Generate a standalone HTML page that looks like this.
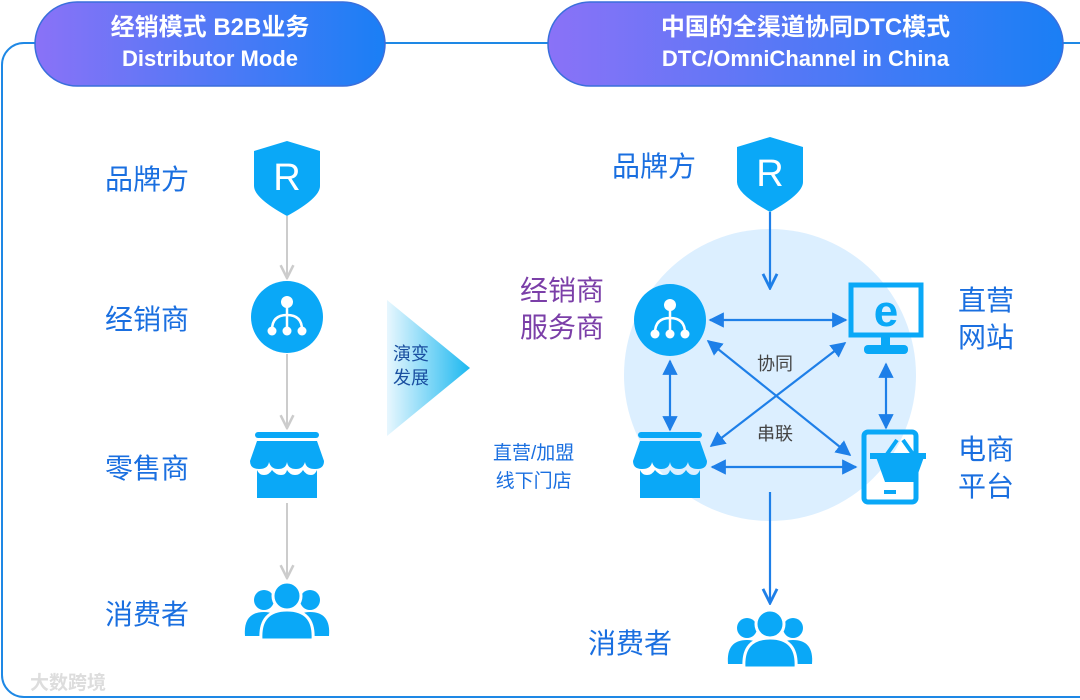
<!DOCTYPE html>
<html><head><meta charset="utf-8"><style>
body{margin:0;width:1080px;height:700px;background:#fff;overflow:hidden;font-family:"Liberation Sans","Noto Sans CJK SC",sans-serif;}
.t{position:absolute;white-space:nowrap;}
</style></head><body>
<svg width="1080" height="700" style="position:absolute;left:0;top:0">
<defs>
<linearGradient id="pg" x1="0" x2="1"><stop offset="0" stop-color="#8a72f7"/><stop offset="1" stop-color="#1a7ff5"/></linearGradient>
<linearGradient id="tg" x1="0" x2="1"><stop offset="0" stop-color="#e8f7fe"/><stop offset="1" stop-color="#1cb8f0"/></linearGradient>
<marker id="ag" viewBox="0 0 10 10" refX="9" refY="5" markerWidth="8" markerHeight="8" orient="auto-start-reverse"><path d="M1 1L9 5L1 9" fill="none" stroke="#ccc" stroke-width="1.6"/></marker>
<marker id="ab" viewBox="0 0 10 10" refX="9" refY="5" markerWidth="7" markerHeight="7" orient="auto-start-reverse"><path d="M0 0L10 5L0 10z" fill="#1e7fe8"/></marker>
<marker id="av" viewBox="0 0 10 10" refX="9" refY="5" markerWidth="8" markerHeight="8" orient="auto-start-reverse"><path d="M1 1L9 5L1 9" fill="none" stroke="#1e7fe8" stroke-width="1.6"/></marker>
<g id="shield"><path d="M0 -35L33 -25V10Q33 22 0 40Q-33 22 -33 10V-25Z" fill="#0aa8f7"/><text x="0" y="14" font-size="38" fill="#fff" text-anchor="middle" font-family="Liberation Sans">R</text></g>
<g id="dist"><circle r="36" fill="#0aa8f7"/><circle cx="0" cy="-15" r="6" fill="#fff"/><line x1="0" y1="-10" x2="0" y2="13" stroke="#fff" stroke-width="2.5"/><path d="M-15 13Q-15 -2 0 -2Q15 -2 15 13" fill="none" stroke="#fff" stroke-width="2.5"/><circle cx="-15" cy="14" r="4.5" fill="#fff"/><circle cx="0" cy="14" r="4.5" fill="#fff"/><circle cx="15" cy="14" r="4.5" fill="#fff"/></g>
<g id="store"><rect x="-32" y="-33" width="64" height="6" rx="3" fill="#0aa8f7"/><path d="M-30 -24H30L37 -4Q37 4 28 4Q19 4 18 -3Q16 4 9 4Q1 4 0 -3Q-1 4 -9 4Q-16 4 -18 -3Q-19 4 -28 4Q-37 4 -37 -4Z" fill="#0aa8f7"/><path d="M-30 5Q-28 10 -23 10Q-18 10 -15 5Q-11 10 -6 10Q-1 10 0 5Q3 10 8 10Q13 10 16 5Q19 10 24 10Q28 10 30 5V33H-30Z" fill="#0aa8f7"/></g>
<g id="people" fill="#0aa8f7"><circle cx="-23" cy="-12" r="10"/><circle cx="23" cy="-12" r="10"/><path d="M-42 24Q-44 0 -23 0Q-12 0 -10 8V24Z"/><path d="M42 24Q44 0 23 0Q12 0 10 8V24Z"/><circle cx="0" cy="-16" r="14" stroke="#fff" stroke-width="3"/><path d="M-26 28Q-28 -2 0 -2Q28 -2 26 28Z" stroke="#fff" stroke-width="3"/></g>
</defs>
<rect x="2" y="43" width="1100" height="654" rx="22" fill="none" stroke="#1e88e5" stroke-width="2"/>
<rect x="35" y="2" width="350" height="84" rx="42" fill="url(#pg)" stroke="#3a6fdc" stroke-width="1.5"/>
<rect x="548" y="2" width="515" height="84" rx="42" fill="url(#pg)" stroke="#3a6fdc" stroke-width="1.5"/>
<circle cx="770" cy="375" r="146" fill="#dcefff"/>
<polygon points="387,300 470,368 387,436" fill="url(#tg)"/>
<use href="#shield" x="287" y="176"/>
<use href="#dist" x="287" y="317"/>
<use href="#store" x="287" y="465"/>
<use href="#people" x="287" y="612"/>
<g stroke="#ccc" stroke-width="2"><line x1="287" y1="216" x2="287" y2="278" marker-end="url(#ag)"/><line x1="287" y1="354" x2="287" y2="428" marker-end="url(#ag)"/><line x1="287" y1="503" x2="287" y2="578" marker-end="url(#ag)"/></g>
<use href="#shield" x="770" y="172"/>
<use href="#dist" x="670" y="320"/>
<use href="#store" x="670" y="465"/>
<use href="#people" x="770" y="640"/>
<g fill="#0aa8f7"><rect x="851" y="285" width="70" height="50" fill="none" stroke="#0aa8f7" stroke-width="5"/><text x="886" y="326" font-size="44" font-weight="bold" text-anchor="middle" font-family="Liberation Sans">e</text><rect x="881" y="335" width="9" height="12"/><rect x="864" y="345" width="44" height="9" rx="4"/>
<rect x="864" y="432" width="52" height="70" rx="4" fill="none" stroke="#0aa8f7" stroke-width="5"/><rect x="884" y="490" width="12" height="4"/><path d="M876 457H924L915 482H885Z"/><path d="M885 457L897 440M915 457L903 440" stroke="#0aa8f7" stroke-width="4" fill="none"/><rect x="870" y="453" width="56" height="6"/></g>
<g stroke="#1e7fe8" stroke-width="2.2" fill="none">
<line x1="770" y1="212" x2="770" y2="288" marker-end="url(#av)"/>
<line x1="770" y1="492" x2="770" y2="603" marker-end="url(#av)"/>
<line x1="710" y1="320" x2="846" y2="320" marker-start="url(#ab)" marker-end="url(#ab)"/>
<line x1="708" y1="341" x2="850" y2="455" marker-start="url(#ab)" marker-end="url(#ab)"/>
<line x1="845" y1="343" x2="711" y2="446" marker-start="url(#ab)" marker-end="url(#ab)"/>
<line x1="670" y1="361" x2="670" y2="430" marker-start="url(#ab)" marker-end="url(#ab)"/>
<line x1="886" y1="364" x2="886" y2="428" marker-start="url(#ab)" marker-end="url(#ab)"/>
<line x1="712" y1="467" x2="856" y2="467" marker-start="url(#ab)" marker-end="url(#ab)"/>
</g>
</svg>
<div class="t" style="left:35px;width:350px;top:12px;text-align:center;color:#fff;font-weight:bold;font-size:24px;line-height:31px">经销模式 B2B业务<br><span style="font-size:22px">Distributor Mode</span></div>
<div class="t" style="left:548px;width:515px;top:12px;text-align:center;color:#fff;font-weight:bold;font-size:24px;line-height:31px">中国的全渠道协同DTC模式<br><span style="font-size:22px">DTC/OmniChannel in China</span></div>
<div class="t" style="left:105px;top:158px;font-size:28px;color:#1a6fe0">品牌方</div>
<div class="t" style="left:105px;top:298px;font-size:28px;color:#1a6fe0">经销商</div>
<div class="t" style="left:105px;top:447px;font-size:28px;color:#1a6fe0">零售商</div>
<div class="t" style="left:105px;top:593px;font-size:28px;color:#1a6fe0">消费者</div>
<div class="t" style="left:393px;top:342px;font-size:18px;line-height:24px;color:#1a4fa0">演变<br>发展</div>
<div class="t" style="left:612px;top:145px;font-size:28px;color:#1a6fe0">品牌方</div>
<div class="t" style="left:520px;top:272px;font-size:28px;line-height:37px;color:#7b3fa8">经销商<br>服务商</div>
<div class="t" style="left:958px;top:282px;font-size:28px;line-height:37px;color:#1a6fe0">直营<br>网站</div>
<div class="t" style="left:958px;top:431px;font-size:28px;line-height:37px;color:#1a6fe0">电商<br>平台</div>
<div class="t" style="left:493px;top:440px;font-size:19px;line-height:28px;color:#1a6fe0;text-align:center">直营/加盟<br>线下门店</div>
<div class="t" style="left:588px;top:622px;font-size:28px;color:#1a6fe0">消费者</div>
<div class="t" style="left:757px;top:350px;font-size:18px;color:#444">协同</div>
<div class="t" style="left:757px;top:420px;font-size:18px;color:#444">串联</div>
<div class="t" style="left:30px;top:668px;font-size:19px;color:#ddd;font-weight:bold">大数跨境</div>
</body></html>
